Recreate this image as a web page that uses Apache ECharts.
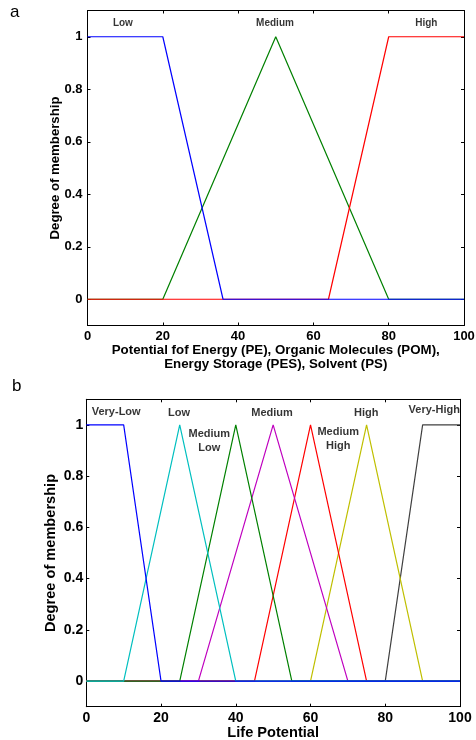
<!DOCTYPE html>
<html><head><meta charset="utf-8">
<script src="https://cdn.jsdelivr.net/npm/echarts@6/dist/echarts.min.js"></script>
<style>html,body{margin:0;padding:0;background:#fff}#c{width:476px;height:740px}</style>
</head><body><div id="c"></div>
<script>
// ---- Data: chart a ----
const aLow = [[0,1],[20,1],[36,0],[100,0]];
const aMedium = [[0,0],[20,0],[50,1],[80,0],[100,0]];
const aHigh = [[0,0],[64,0],[80,1],[100,1]];
const aLabels = [[9.4,1.05,'Low'],[49.8,1.05,'Medium'],[90,1.05,'High']];
const aXName = 'Potential fof Energy (PE), Organic Molecules (POM),\nEnergy Storage (PES), Solvent (PS)';

// ---- Data: chart b ----
const bVeryLow = [[0,1],[10,1],[20,0],[100,0]];
const bLow = [[0,0],[10,0],[25,1],[40,0],[100,0]];
const bMediumLow = [[0,0],[25,0],[40,1],[55,0],[100,0]];
const bMedium = [[0,0],[30,0],[50,1],[70,0],[100,0]];
const bMediumHigh = [[0,0],[45,0],[60,1],[75,0],[100,0]];
const bHigh = [[0,0],[60,0],[75,1],[90,0],[100,0]];
const bVeryHigh = [[0,0],[80,0],[90,1],[100,1]];
const bLabels = [[8.0,1.05,'Very-Low'],[24.8,1.048,'Low'],[32.9,0.936,'Medium\nLow'],[49.7,1.045,'Medium'],[67.4,0.945,'Medium\nHigh'],[74.9,1.048,'High'],[93.1,1.059,'Very-High']];
const bXName = 'Life Potential';

// ---- Ticks ----
const xTicks = [0,20,40,60,80,100];
const yTicks = [0,0.2,0.4,0.6,0.8,1];

const FONT = 'Liberation Sans';
const chart = echarts.init(document.getElementById('c'), null, {renderer:'canvas'});

function xAx(gi, pos, showLabel, name, nameGap, labelMargin, fs, nfs, nlh){
  return {type:'value', gridIndex:gi, position:pos, min:0, max:100, interval:20,
    axisLine:{show:true, onZero:false, lineStyle:{color:'#000', width:1}},
    axisTick:{show:true, inside:true, length:3, lineStyle:{color:'#000'}},
    axisLabel:{show:showLabel, color:'#000', fontFamily:FONT, fontWeight:'bold', fontSize:fs||13, margin:labelMargin||4},
    splitLine:{show:false},
    name: name || '', nameLocation:'middle', nameGap:nameGap||0, nameMoveOverlap:false,
    nameTextStyle:{color:'#000', fontFamily:FONT, fontWeight:'bold', fontSize:nfs||13, lineHeight:nlh||14, verticalAlign:'top'}};
}
function yAx(gi, pos, showLabel, name, nameGap, fs, nfs, margin){
  return {type:'value', gridIndex:gi, position:pos, min:-0.1, max:1.1,
    axisLine:{show:true, onZero:false, lineStyle:{color:'#000', width:1}},
    axisTick:{show:true, inside:true, length:3, customValues:yTicks, lineStyle:{color:'#000'}},
    axisLabel:{show:showLabel, customValues:yTicks, color:'#000', fontFamily:FONT, fontWeight:'bold', fontSize:fs||13, margin:margin||5,
      formatter:v=>String(Math.round(v*10)/10)},
    splitLine:{show:false},
    name: name || '', nameLocation:'middle', nameGap:nameGap||0, nameRotate:90, nameMoveOverlap:false,
    nameTextStyle:{color:'#000', fontFamily:FONT, fontWeight:'bold', fontSize:nfs||13}};
}
function line(data, color, xi, yi){
  return {type:'line', data:data, xAxisIndex:xi, yAxisIndex:yi, symbol:'none', animation:false,
    lineStyle:{color:color, width:1.2}, itemStyle:{color:color}, z:3};
}
function labels(arr, xi, yi, fs){
  return {type:'scatter', xAxisIndex:xi, yAxisIndex:yi, symbolSize:0, animation:false, silent:true,
    data:arr.map(d=>({value:[d[0],d[1]], name:d[2]})),
    label:{show:true, position:'inside', formatter:p=>p.name, color:'#000', fontFamily:FONT, fontWeight:'bold', fontSize:fs, lineHeight:fs+3, align:'center', verticalAlign:'middle'}, z:5};
}

const option = {
  backgroundColor:'#fff',
  animation:false,
  grid:[
    {left:87.5, top:10.5, width:376.5, height:315, containLabel:false, outerBoundsMode:'none'},
    {left:86.3, top:399.3, width:373.7, height:307.4, containLabel:false, outerBoundsMode:'none'}
  ],
  xAxis:[
    xAx(0,'bottom',true,aXName,17.5,4,13,13.3,14),
    xAx(0,'top',false),
    xAx(1,'bottom',true,bXName,18,4,14,14.6,16),
    xAx(1,'top',false)
  ],
  yAxis:[
    yAx(0,'left',true,'Degree of membership',25.5,13,13.2,5),
    yAx(0,'right',false),
    yAx(1,'left',true,'Degree of membership',28,14,14.6,3),
    yAx(1,'right',false)
  ],
  series:[
    line(aMedium,'#008000',0,0),
    line(aHigh,'#ff0000',0,0),
    line(aLow,'#0000ff',0,0),
    labels(aLabels,0,0,10),
    line(bVeryHigh,'#404040',2,2),
    line(bHigh,'#bfbf00',2,2),
    line(bMediumHigh,'#ff0000',2,2),
    line(bMedium,'#bf00bf',2,2),
    line(bMediumLow,'#008000',2,2),
    line(bLow,'#00bfbf',2,2),
    line(bVeryLow,'#0000ff',2,2),
    labels(bLabels,2,2,11)
  ],
  graphic:[
    {type:'text', left:10, top:4, style:{text:'a', fontFamily:FONT, fontSize:17, fill:'#000'}},
    {type:'text', left:12, top:378, style:{text:'b', fontFamily:FONT, fontSize:17, fill:'#000'}}
  ]
};
chart.setOption(option);
</script></body></html>
